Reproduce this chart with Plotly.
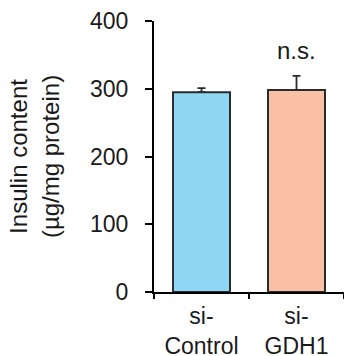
import plotly.graph_objects as go

categories = ["si-<br>Control", "si-<br>GDH1"]
values = [295, 298]
errors_up = [6, 21]
bar_colors = ["#8ED8F6", "#F9BFA7"]
y_ticks = [0, 100, 200, 300, 400]
sig_label = "n.s."

FONT = "Liberation Sans, Arial, sans-serif"
TXT = "#1a1a1a"

fig = go.Figure()
fig.add_trace(go.Bar(
    x=categories,
    y=values,
    width=0.6,
    marker=dict(color=bar_colors, line=dict(color="#2b2b2b", width=2)),
    error_y=dict(type="data", symmetric=False, array=errors_up,
                 arrayminus=[0] * len(values), color="#2b2b2b",
                 thickness=1.8, width=4),
    showlegend=False,
    hoverinfo="skip",
))

fig.add_annotation(x=categories[1], y=values[1] + errors_up[1] + 14,
                   text=sig_label, showarrow=False, yanchor="bottom",
                   font=dict(family=FONT, size=24, color=TXT))

fig.update_layout(
    width=344, height=356,
    margin=dict(l=154, r=0, t=21, b=64),
    paper_bgcolor="white", plot_bgcolor="white",
    font=dict(family=FONT, size=23, color=TXT),
    bargap=0.4,
)
fig.update_xaxes(
    range=[-0.5, 1.5], showline=True, linecolor="black", linewidth=2,
    ticks="outside", tickson="boundaries", ticklen=5, tickwidth=2,
    tickcolor="black", showgrid=False, zeroline=False, automargin=False,
    tickfont=dict(family=FONT, size=23, color=TXT), ticklabelstandoff=2,
)
fig.update_yaxes(
    range=[0, 400], tickvals=y_ticks, showline=True, linecolor="black",
    linewidth=2, ticks="outside", ticklen=7, tickwidth=2, tickcolor="black",
    showgrid=False, zeroline=False, automargin=False,
    tickfont=dict(family=FONT, size=23, color=TXT), ticklabelstandoff=12,
    title=dict(text="Insulin content<br>(µg/mg protein)",
               font=dict(family=FONT, size=24, color=TXT), standoff=24),
)

fig.write_html(
    "out.html",
    config={"displayModeBar": False},
    post_script="document.body.style.margin='0';document.body.style.padding='0';",
)
